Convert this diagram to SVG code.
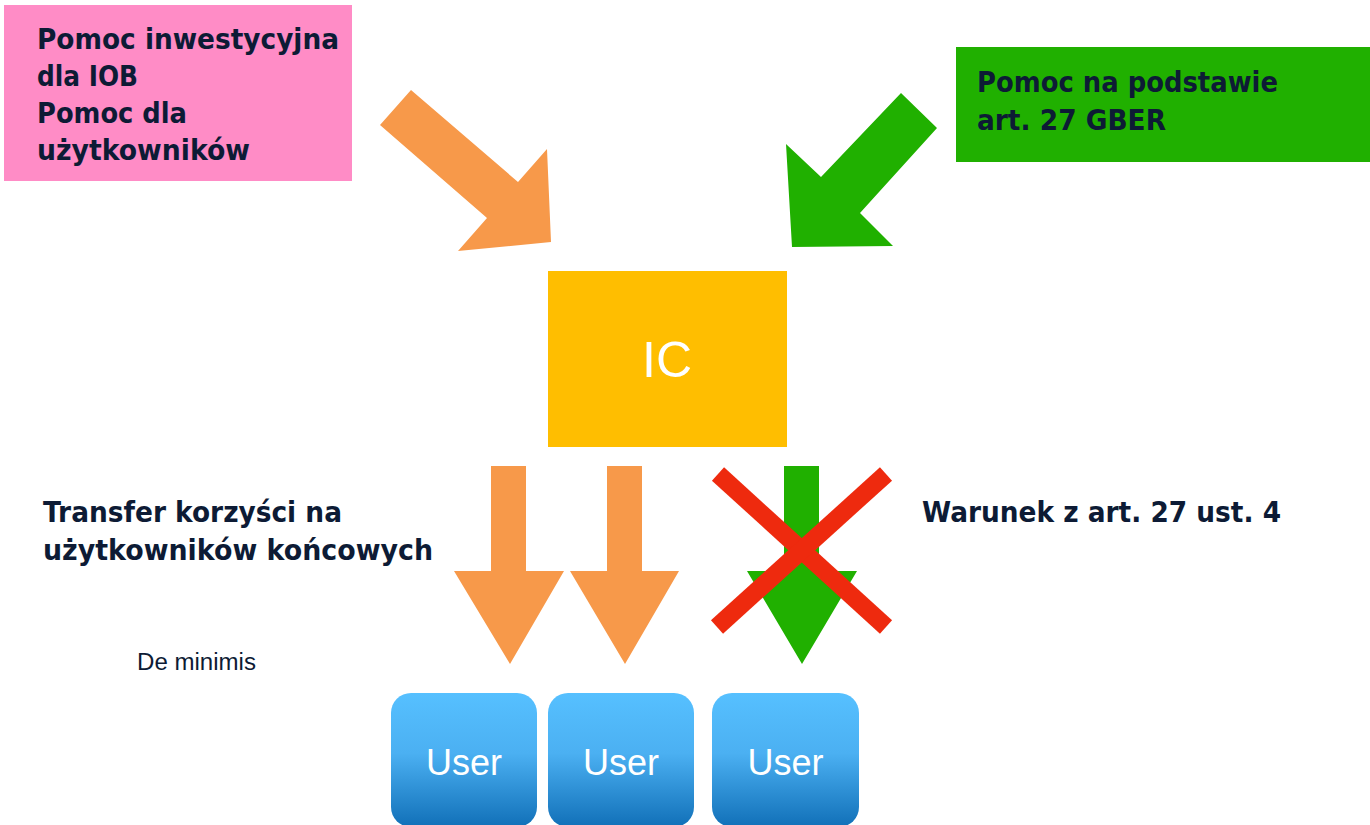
<svg xmlns="http://www.w3.org/2000/svg" width="1370" height="825" viewBox="0 0 1370 825">
<style>
.lbl{font-family:"DejaVu Sans","Noto Sans",sans-serif;font-weight:bold;font-size:29px;fill:#0d1b35}
.wht{font-family:"Liberation Sans",Arial,sans-serif;fill:#ffffff;text-anchor:middle}
.org{fill:#f7994a}
.grn{fill:#20b000}
</style>
<defs>
<linearGradient id="ug" x1="0" y1="0" x2="0" y2="1">
<stop offset="0" stop-color="#56c0ff"/>
<stop offset="0.45" stop-color="#4bb0f2"/>
<stop offset="1" stop-color="#1170b8"/>
</linearGradient>
</defs>
<rect width="1370" height="825" fill="#ffffff"/>

<g id="pink-box">
<rect x="4" y="5" width="348" height="176" fill="#ff8cc6"/>
<text class="lbl" x="37" y="49" textLength="302" lengthAdjust="spacingAndGlyphs">Pomoc inwestycyjna</text>
<text class="lbl" x="37" y="86" textLength="101" lengthAdjust="spacingAndGlyphs">dla IOB</text>
<text class="lbl" x="37" y="123" textLength="150" lengthAdjust="spacingAndGlyphs">Pomoc dla</text>
<text class="lbl" x="37" y="160" textLength="213" lengthAdjust="spacingAndGlyphs">użytkowników</text>
</g>

<g id="green-box">
<rect x="956" y="47" width="414" height="115" fill="#20b000"/>
<text class="lbl" x="977" y="92" textLength="301" lengthAdjust="spacingAndGlyphs">Pomoc na podstawie</text>
<text class="lbl" x="977" y="130" textLength="189" lengthAdjust="spacingAndGlyphs">art. 27 GBER</text>
</g>

<g id="ic">
<rect x="548" y="271" width="239" height="176" fill="#ffbe00"/>
<text class="wht" x="667" y="377" font-size="50">IC</text>
</g>

<g id="label-transfer">
<text class="lbl" x="43" y="522" textLength="299" lengthAdjust="spacingAndGlyphs">Transfer korzyści na</text>
<text class="lbl" x="43" y="560" textLength="390" lengthAdjust="spacingAndGlyphs">użytkowników końcowych</text>
</g>

<g id="label-warunek">
<text class="lbl" x="922" y="522" textLength="359" lengthAdjust="spacingAndGlyphs">Warunek z art. 27 ust. 4</text>
</g>

<g id="label-deminimis">
<text x="137" y="670" font-family="'Liberation Sans',Arial,sans-serif" font-size="23" fill="#0d1b35" textLength="119" lengthAdjust="spacingAndGlyphs">De minimis</text>
</g>

<g id="user1">
<rect x="391" y="693" width="146" height="134" rx="20" fill="url(#ug)"/>
<text class="wht" x="464" y="775" font-size="36">User</text>
</g>
<g id="user2">
<rect x="548" y="693" width="146" height="134" rx="20" fill="url(#ug)"/>
<text class="wht" x="621" y="775" font-size="36">User</text>
</g>
<g id="user3">
<rect x="712" y="693" width="147" height="134" rx="20" fill="url(#ug)"/>
<text class="wht" x="785.5" y="775" font-size="36">User</text>
</g>

<g id="connectors">
<polygon class="org" points="411,90 518,182 547,149 551,242 458,251 487,218 380,125"/>
<polygon class="grn" points="901,93 937,128 860,213 893,246 792,247 786,144 821,177"/>
<polygon class="org" points="491,466 526,466 526,571 564,571 510,664 454,571 491,571"/>
<polygon class="org" points="607,466 642,466 642,571 679,571 625,664 570,571 607,571"/>
<polygon class="grn" points="784,466 819,466 819,571 857,571 802,664 747,571 784,571"/>
<g stroke="#ee2a0e" stroke-width="18" stroke-linecap="butt">
<line x1="718" y1="474" x2="886" y2="627"/>
<line x1="886" y1="474" x2="717" y2="627"/>
</g>
</g>
</svg>
